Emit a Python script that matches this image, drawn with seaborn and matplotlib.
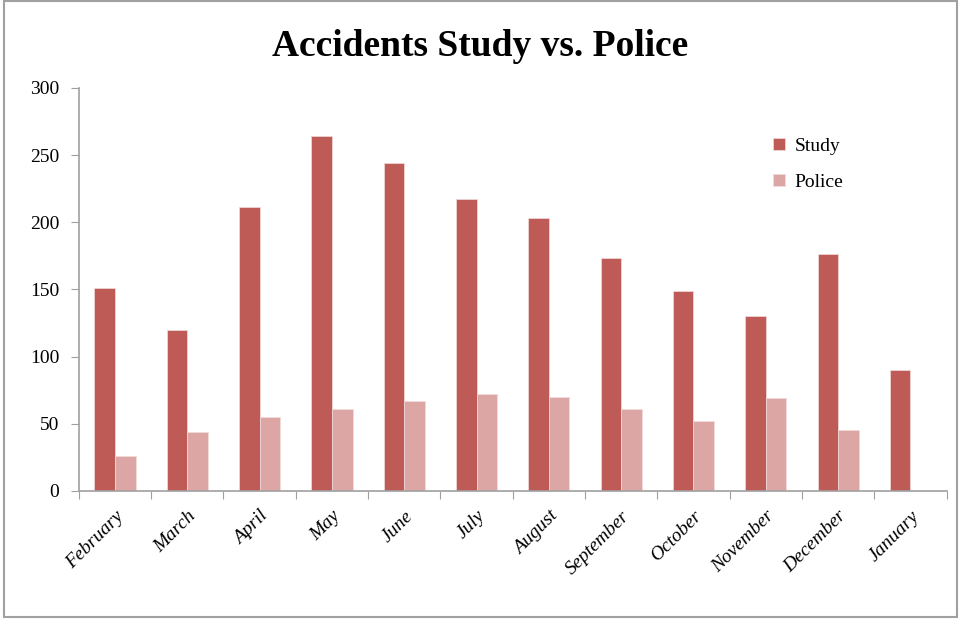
import numpy as np
import pandas as pd
import matplotlib
matplotlib.use('Agg')
import matplotlib.pyplot as plt
import seaborn as sns
from matplotlib.patches import Rectangle

months = ['February', 'March', 'April', 'May', 'June', 'July', 'August',
          'September', 'October', 'November', 'December', 'January']
study = [151, 120, 211, 264, 244, 217, 203, 173, 149, 130, 176, 90]
police = [26, 44, 55, 61, 67, 72, 70, 61, 52, 69, 45, None]

rows = []
for m, s, p in zip(months, study, police):
    rows.append({'Month': m, 'Series': 'Study', 'Count': s})
    if p is not None:
        rows.append({'Month': m, 'Series': 'Police', 'Count': p})
df = pd.DataFrame(rows)

sns.set_style('white')
plt.rcParams['font.family'] = ['Liberation Serif', 'DejaVu Serif']
plt.rcParams['text.color'] = 'black'
plt.rcParams['xtick.color'] = 'black'
plt.rcParams['ytick.color'] = 'black'

fig = plt.figure(figsize=(9.61, 6.19), dpi=100)
ax = fig.add_axes([0.082, 0.207, 0.903, 0.651])

sns.barplot(data=df, x='Month', y='Count', hue='Series', order=months,
            hue_order=['Study', 'Police'],
            palette={'Study': '#BE5B56', 'Police': '#DCA6A5'}, saturation=1,
            width=0.57, errorbar=None, edgecolor='#F2DCDB', linewidth=0.5, ax=ax)

ax.set_ylim(0, 300)
ax.set_yticks(np.arange(0, 301, 50))
ax.set_xlim(-0.5, len(months) - 0.5)
ax.set_xlabel('')
ax.set_ylabel('')

# ticks at category boundaries, labels at centres
ax.set_xticks(np.arange(-0.5, len(months), 1))
ax.set_xticklabels([])
ax.set_xticks(np.arange(len(months)), minor=True)
ax.set_xticklabels(months, minor=True, rotation=45, ha='right',
                   rotation_mode='anchor', fontstyle='italic', fontsize=14)
ax.tick_params(axis='x', which='major', length=6, color='#A0A0A0', direction='out', bottom=True)
ax.tick_params(axis='x', which='minor', length=0, pad=12, labelcolor='black')
ax.tick_params(axis='y', length=6, color='#A0A0A0', direction='out', left=True,
               labelsize=14, pad=8, labelcolor='black')

for side in ['top', 'right']:
    ax.spines[side].set_visible(False)
for side in ['left', 'bottom']:
    ax.spines[side].set_color('#A0A0A0')
    ax.spines[side].set_linewidth(1.2)

leg = ax.legend(loc='upper left', bbox_to_anchor=(0.78, 0.92), frameon=False,
                fontsize=14, handlelength=0.6, handleheight=0.6,
                handletextpad=0.5, labelspacing=1.0)
for t in leg.get_texts():
    t.set_color('black')

fig.text(0.5, 0.925, 'Accidents Study vs. Police', ha='center', va='center',
         fontsize=27, fontweight='bold', color='black')

fig.patches.append(Rectangle((0.004, 0.004), 0.992, 0.994, transform=fig.transFigure,
                             fill=False, edgecolor='#A0A0A0', linewidth=1.5))

fig.savefig('out.png', dpi=100)
